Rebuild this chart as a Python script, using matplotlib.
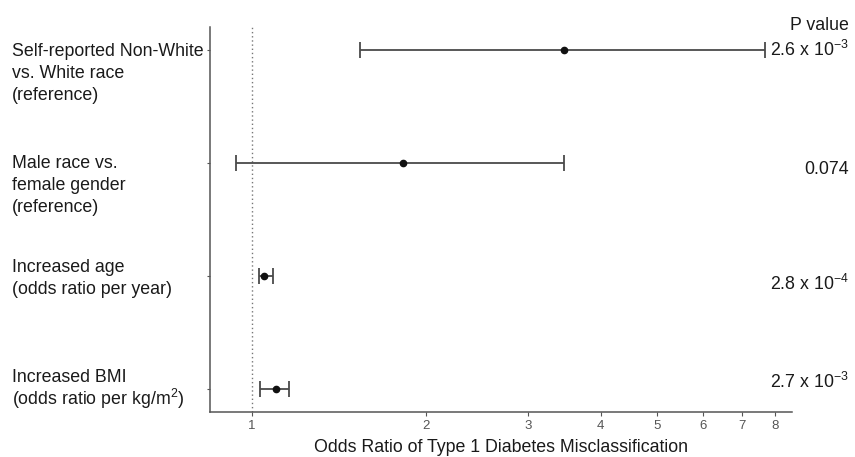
import matplotlib
matplotlib.use("Agg")
import matplotlib.pyplot as plt
from matplotlib.ticker import FixedLocator, NullLocator

plt.rcParams["font.family"] = ["Liberation Sans", "DejaVu Sans"]
plt.rcParams["mathtext.fontset"] = "custom"
plt.rcParams["mathtext.rm"] = "Liberation Sans"
plt.rcParams["mathtext.it"] = "Liberation Sans"
plt.rcParams["mathtext.default"] = "regular"

# data, top row first
labels = [
    ["Self-reported Non-White", "vs. White race", "(reference)"],
    ["Male race vs.", "female gender", "(reference)"],
    ["Increased age", "(odds ratio per year)"],
    ["Increased BMI", "(odds ratio per kg/m$^{2}$)"],
]
odds_ratio = [3.45, 1.82, 1.05, 1.10]
ci_low = [1.54, 0.94, 1.03, 1.034]
ci_high = [7.68, 3.45, 1.09, 1.16]
p_values = [
    "2.6 x 10$^{-3}$",
    "0.074",
    "2.8 x 10$^{-4}$",
    "2.7 x 10$^{-3}$",
]
x_ticks = [1, 2, 3, 4, 5, 6, 7, 8]

# text placement, pixels from top
label_top_px = [51, 163, 268, 377]
line_step_px = 22
p_y_px = [50, 170, 284, 382]

line_col = "#4a4a4a"
text_col = "#1a1a1a"
n = len(labels)
ypos = list(range(n, 0, -1))
H = 457

fig = plt.figure(figsize=(8.55, 4.57), dpi=100)
ax = fig.add_axes([210 / 855, 1 - 412 / H, 582 / 855, 385 / H])

ax.axvline(1, color="#777777", linestyle=(0, (1, 2)), linewidth=1.0, zorder=1)

err_lo = [o - l for o, l in zip(odds_ratio, ci_low)]
err_hi = [h - o for o, h in zip(odds_ratio, ci_high)]
ax.errorbar(
    odds_ratio,
    ypos,
    xerr=[err_lo, err_hi],
    fmt="o",
    color="#111111",
    markersize=4.5,
    ecolor=line_col,
    elinewidth=1.3,
    capsize=6,
    capthick=1.3,
    zorder=3,
)

ax.set_xscale("log")
ax.set_xlim(0.847, 8.55)
ax.set_ylim(0.8, n + 0.2)
ax.xaxis.set_major_locator(FixedLocator(x_ticks))
ax.xaxis.set_minor_locator(NullLocator())
ax.set_xticklabels([str(t) for t in x_ticks])
ax.tick_params(axis="x", labelsize=9.5, colors="#555555", length=3, width=0.8, pad=3)

ax.set_yticks(ypos)
ax.set_yticklabels([])
ax.tick_params(axis="y", length=2.5, width=0.8, colors="#555555")

for spine in ["top", "right"]:
    ax.spines[spine].set_visible(False)
for spine in ["left", "bottom"]:
    ax.spines[spine].set_color("#555555")
    ax.spines[spine].set_linewidth(1.1)

for lines, top in zip(labels, label_top_px):
    for i, line in enumerate(lines):
        fig.text(
            12 / 855,
            1 - (top + i * line_step_px) / H,
            line,
            ha="left",
            va="center",
            fontsize=12.8,
            color=text_col,
        )

ax.set_xlabel(
    "Odds Ratio of Type 1 Diabetes Misclassification",
    fontsize=12.8,
    color=text_col,
    labelpad=5,
)

fig.text(849 / 855, 1 - 25 / H, "P value", ha="right", va="center",
         fontsize=12.8, color=text_col)
for txt, yp in zip(p_values, p_y_px):
    fig.text(849 / 855, 1 - yp / H, txt, ha="right", va="center",
             fontsize=12.8, color=text_col)

fig.savefig("out.png", dpi=100)
